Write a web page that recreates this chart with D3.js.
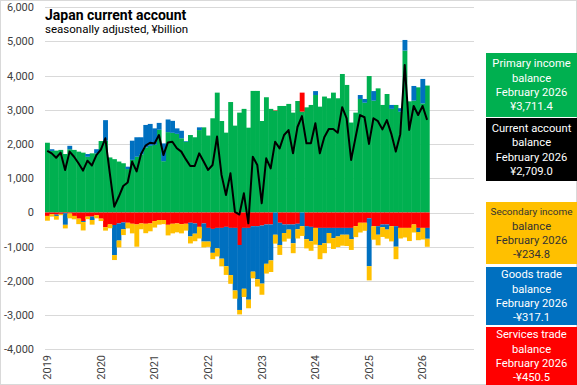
<!DOCTYPE html>
<html><head><meta charset="utf-8">
<script src="https://cdn.jsdelivr.net/npm/d3@7"></script>
<style>body{margin:0;background:#fff}svg{display:block}text{font-family:Roboto,"Noto Sans",sans-serif}</style>
</head><body><svg id="c" width="577" height="385"></svg>
<script>
const years = ["2019","2020","2021","2022","2023","2024","2025","2026"];
const yTicks = [-4000,-3000,-2000,-1000,0,1000,2000,3000,4000,5000,6000];
const primary = [2040,1800,1810,1830,1710,1850,1830,1780,1750,1630,1730,1730,
  2090,2100,1610,1560,1490,1440,1270,1540,1630,1700,1900,1950,
  1980,2420,1500,2350,2330,2300,2170,2070,2265,2200,2410,2490,
  2250,2755,3505,2675,2335,3230,2540,2920,3030,2480,3555,3555,
  2675,3370,3030,2980,3115,3115,3175,2920,3260,2950,3075,3145,
  3435,3095,3390,3340,3505,3340,4050,3730,2630,2920,3320,3210,
  3990,3270,3630,3145,3465,3030,3145,2950,4735,3250,3270,3660,
  3190,3711.4];
const goods = [0,50,-40,0,-340,100,0,0,-30,80,-100,120,
  0,600,0,-880,-500,-200,70,560,570,500,660,640,
  480,200,520,370,350,160,220,20,-400,-300,80,-530,
  -400,-700,-600,-900,-1150,-1380,-1830,-1900,-1780,-2100,-1330,-1550,
  -1700,-1150,-1050,-650,-650,-250,-150,-550,-160,-400,-380,-420,
  115,-500,-450,-150,-300,-250,-200,-200,-330,0,115,110,
  -1400,280,-250,-80,-150,115,-600,100,310,0,430,-120,
  715,-317.1];
const services = [-100,-50,-60,-40,-20,-30,-100,-180,-250,-120,-120,-80,
  -180,-430,-350,-365,-320,-290,-300,-330,-350,-320,-330,-320,
  -250,-220,-220,-360,-330,-320,-340,-330,-300,-320,-420,-320,
  -450,-480,-450,-450,-420,-450,-450,-950,-450,-450,-400,-400,
  -380,-350,-350,10,-300,-350,-350,-350,-330,555,-400,-420,
  -450,-450,-450,-450,-450,-450,-450,-450,-450,-400,-300,-300,
  -170,-400,-400,-350,-350,-400,-400,-450,-450,-450,-350,-450,
  -450,-450.5];
const secondary = [-140,-70,-110,-40,-105,-140,-100,-160,-245,-75,-135,-90,
  -70,-100,-110,-145,-200,-170,-165,-280,-650,-170,-275,-230,
  -190,-135,-120,-310,-280,-260,-270,-200,-205,-220,-340,-170,
  -155,-185,-235,-225,-255,-255,-240,-130,-240,-250,-195,-215,
  -325,-285,-340,-260,-290,-250,-265,-290,-270,-285,-270,-280,
  -490,-415,-290,-300,-315,-310,-320,-330,-315,-320,-285,-235,
  -415,-395,-310,-285,-265,-445,-365,-310,-280,-385,-235,-240,
  -340,-234.8];
const current = [1800,1730,1600,1750,1245,1780,1630,1440,1225,1515,1375,1680,
  1840,2170,1150,170,460,775,875,1490,1200,1710,1955,2040,
  2020,2265,1680,2050,2070,1880,1780,1560,1360,1360,1730,1490,
  1245,1390,2220,1100,510,1145,20,-60,560,-317,1630,1390,
  270,1585,1290,2070,1875,2265,2410,1730,2500,2820,2025,2025,
  2610,1730,2200,2440,2440,2330,3080,2750,1535,2200,2850,2785,
  2005,2755,2670,2430,2700,2300,1780,2290,4315,2415,3115,2850,
  3115,2709.0];

const colors = {primary:"#00B050",services:"#FF0000",goods:"#0070C0",secondary:"#FFC000",current:"#000000"};

const months = [];
years.forEach(y => { for (let m = 1; m <= 12; m++) months.push(y + "-" + String(m).padStart(2,"0")); });

const rows = primary.map((p,i) => ({month: months[i], primary: p, services: services[i], goods: goods[i], secondary: secondary[i], current: current[i]}));

const svg = d3.select("#c");
const W = 577, H = 385;
svg.append("rect").attr("x",0.5).attr("y",0.5).attr("width",W-1).attr("height",H-1).attr("fill","#fff").attr("stroke","#d9d9d9");

const x = d3.scaleBand().domain(months).range([45, 474]).paddingInner(0).paddingOuter(0);
const y = d3.scaleLinear().domain([-4000, 6000]).range([349.3, 7.3]);

const loc = d3.formatLocale({decimal:".",thousands:",",grouping:[3],currency:["",""],minus:"-"});
const fmt = loc.format(",");

svg.append("g").selectAll("line").data(yTicks).join("line")
  .attr("x1",45).attr("x2",474).attr("y1",d=>Math.round(y(d))+0.5).attr("y2",d=>Math.round(y(d))+0.5)
  .attr("stroke","#d9d9d9").attr("stroke-width",1);

svg.append("g").selectAll("text").data(yTicks).join("text")
  .attr("x",34).attr("y",d=>y(d)).attr("dy","0.35em").attr("text-anchor","end")
  .attr("font-size",11).attr("fill","#404040").text(d=>fmt(d));

const keys = ["primary","services","goods","secondary"];
const stack = d3.stack().keys(keys).offset(d3.stackOffsetDiverging)(rows);
const bw = x.bandwidth();
svg.append("g").selectAll("g").data(stack).join("g").attr("fill",s=>colors[s.key])
  .selectAll("rect").data(s=>s).join("rect")
  .attr("x",d=>x(d.data.month)).attr("width",bw+0.4)
  .attr("y",d=>y(Math.max(d[0],d[1])))
  .attr("height",d=>Math.abs(y(d[0])-y(d[1])));

const line = d3.line().x(d=>x(d.month)+bw/2).y(d=>y(d.current));
svg.append("path").datum(rows).attr("d",line).attr("fill","none").attr("stroke","#000").attr("stroke-width",2).attr("stroke-linejoin","round");

svg.append("g").selectAll("text").data(years).join("text")
  .attr("transform",d=>`translate(${x(d+"-01")+bw/2},355) rotate(-90)`)
  .attr("text-anchor","end").attr("dy","0.35em").attr("font-size",11).attr("fill","#404040").text(d=>d);

svg.append("text").attr("x",45).attr("y",20).attr("font-size",14).attr("font-weight","bold").attr("fill","#000").text("Japan current account");
svg.append("text").attr("x",45).attr("y",33).attr("font-size",11.5).attr("fill","#000").text("seasonally adjusted, ¥billion");

const last = rows.length - 1;
const monthName = "February " + months[last].slice(0,4);
const money = v => (v < 0 ? "-" : "") + "¥" + d3.format(",.1f")(Math.abs(v));
const boxes = [
  {lines:["Primary income","balance"], v: primary[last], fill: colors.primary, tc:"#fff", y0:53, y1:117},
  {lines:["Current account","balance"], v: current[last], fill: colors.current, tc:"#fff", y0:118, y1:181},
  {lines:["Secondary income","balance"], v: secondary[last], fill: colors.secondary, tc:"#333", y0:202, y1:264},
  {lines:["Goods trade","balance"], v: goods[last], fill: colors.goods, tc:"#fff", y0:267, y1:325},
  {lines:["Services trade","balance"], v: services[last], fill: colors.services, tc:"#fff", y0:327, y1:385}
];
const bg = svg.append("g").selectAll("g").data(boxes).join("g");
bg.append("rect").attr("x",486).attr("y",d=>d.y0).attr("width",91).attr("height",d=>d.y1-d.y0).attr("fill",d=>d.fill);
bg.each(function(d){
  const g = d3.select(this);
  const ls = [...d.lines, monthName, money(d.v)];
  const mid = (d.y0+d.y1)/2;
  ls.forEach((t,i)=>{
    const fs = 11.2;
    const tx = g.append("text").attr("x",531.5).attr("y",mid + (i-1.5)*14.3).attr("dy","0.35em")
     .attr("text-anchor","middle").attr("font-size",fs).attr("fill",d.tc).text(t);
    const len = tx.node().getComputedTextLength();
    if (len > 82) tx.attr("font-size", (fs*82/len).toFixed(2));
  });
});
</script></body></html>
